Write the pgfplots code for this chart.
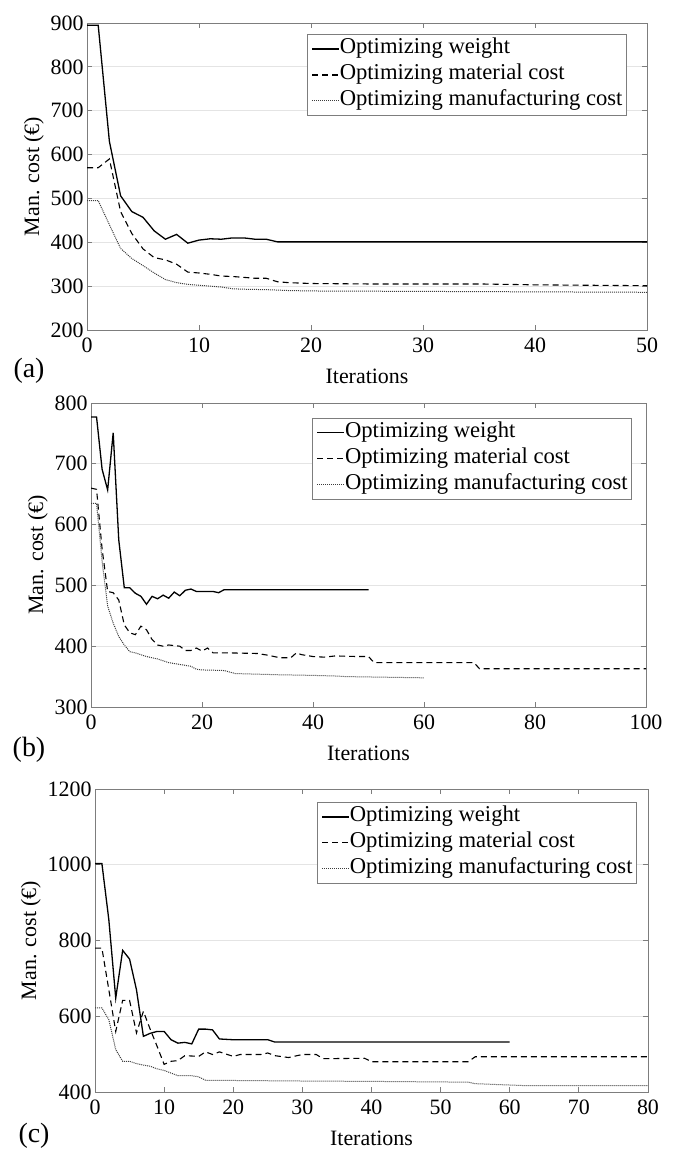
\documentclass[border=0pt]{standalone}
\usepackage{pgfplots}
\pgfplotsset{compat=1.18}
\usepackage{fontspec}
\setmainfont{Liberation Serif}
\definecolor{axgray}{RGB}{125,125,125}
\definecolor{gridgray}{RGB}{228,228,228}
\definecolor{dotcol}{RGB}{60,60,60}
\newcommand{\fsz}{\fontsize{22}{26}\selectfont}
\newcommand{\lsz}{\fontsize{22.7}{26}\selectfont}
\pgfplotsset{
  panel/.style={
    scale only axis, anchor=north west,
    axis line style={axgray, line width=0.8bp},
    tick style={axgray, line width=0.8bp},
    major tick length=5bp,
    tick align=inside,
    ymajorgrids, grid style={gridgray, line width=0.8bp},
    tick label style={font=\fsz},
    xticklabel style={yshift=-4bp},
    /pgf/number format/assume math mode=true,
    /pgf/number format/1000 sep={},
    scaled ticks=false,
    label style={font=\fsz},
    ylabel={Man. cost (€)},
    xlabel={Iterations},
    xlabel style={yshift=-10bp},
    legend cell align=left,
    legend style={draw=axgray, line width=0.8bp, font=\lsz, inner xsep=4bp, inner ysep=1.5bp,
      row sep=0bp, nodes={inner xsep=0bp, inner ysep=0bp, text height=18bp, text depth=8bp},
      /tikz/every even column/.append style={column sep=0bp}},
    legend image code/.code={\draw[#1] (0bp,0bp) -- (27bp,0bp);},
  },
  wline/.style={black, line width=1.3bp},
  mline/.style={black, line width=1.1bp, dash pattern=on 6bp off 4bp},
  fline/.style={dotcol, line width=1.0bp, dash pattern=on 1bp off 1bp},
}
\begin{document}
\begin{tikzpicture}
\path[use as bounding box] (0bp,0bp) rectangle (673bp,-1149bp);
% ---------------- (a)
\begin{axis}[panel, at={(87bp,-23bp)}, width=560bp, height=307bp,
  xmin=0, xmax=50, ymin=200, ymax=900,
  xtick={0,10,...,50}, ytick={200,300,...,900},
  legend style={at={(0.964,0.964)}, anchor=north east}]
\addplot[wline] coordinates {(0,895)(1,895)(2,630)(3,506)(4,470)(5,457)(6,426)(7,407)(8,418)(9,398)(10,405)(11,408)(12,407)(13,410)(14,410)(15,407)(16,407)(17,401)(50,401)};
\addlegendentry{Optimizing weight}
\addplot[mline] coordinates {(0,570)(1,570)(2,590)(3,470)(4,420)(5,385)(6,365)(7,360)(8,350)(9,332)(10,330)(11,327)(12,323)(13,322)(14,320)(15,318)(16,318)(17,310)(18,308)(20,306)(25,305)(30,305)(35,305)(40,303)(45,302)(50,301)};
\addlegendentry{Optimizing material cost}
\addplot[fline] coordinates {(0,495)(1,495)(2,440)(3,386)(4,363)(5,347)(6,330)(7,315)(8,308)(9,304)(10,302)(11,300)(12,298)(13,294)(14,293)(16,292)(18,290)(20,289)(30,288)(40,287)(50,286)};
\addlegendentry{Optimizing manufacturing cost}
\end{axis}
% ---------------- (b)
\begin{axis}[panel, at={(91bp,-403bp)}, width=555bp, height=304bp,
  xmin=0, xmax=100, ymin=300, ymax=800,
  xtick={0,20,...,100}, ytick={300,400,...,800},
  legend style={at={(0.975,0.951)}, anchor=north east}]
\addplot[wline] coordinates {(0,777)(1,777)(2,691)(3,657)(4,751)(5,575)(6,496)(7,496)(8,487)(9,482)(10,469)(11,482)(12,478)(13,484)(14,479)(15,489)(16,483)(17,492)(18,494)(19,490)(20,490)(22,490)(23,488)(24,493)(50,493)};
\addlegendentry{Optimizing weight}
\addplot[mline] coordinates {(0,660)(1,658)(2,560)(3,490)(4,488)(5,476)(6,435)(7,422)(8,419)(9,433)(10,427)(11,411)(12,402)(13,400)(14,402)(15,401)(16,400)(17,393)(18,393)(19,397)(20,392)(21,397)(22,389)(25,389)(30,388)(32,385)(34,381)(36,381)(37,389)(38,386)(40,383)(42,382)(44,384)(48,383)(50,383)(51,373)(69,373)(70,363)(100,363)};
\addlegendentry{Optimizing material cost}
\addplot[fline] coordinates {(0,635)(1,635)(2,540)(3,466)(4,438)(5,416)(6,402)(7,391)(8,389)(9,386)(10,383)(12,379)(14,373)(16,370)(18,367)(19,362)(20,361)(24,360)(26,355)(30,354)(34,353)(40,352)(44,351)(46,350)(60,348)};
\addlegendentry{Optimizing manufacturing cost}
\end{axis}
% ---------------- (c)
\begin{axis}[panel, at={(95bp,-789bp)}, width=553bp, height=303bp,
  xmin=0, xmax=80, ymin=400, ymax=1200,
  xtick={0,10,...,80}, ytick={400,600,...,1200},
  legend style={at={(0.980,0.957)}, anchor=north east}]
\addplot[wline] coordinates {(0,1003)(1,1003)(2,855)(3,648)(4,774)(5,751)(6,670)(7,547)(8,555)(9,560)(10,560)(11,538)(12,529)(13,531)(14,527)(15,566)(16,566)(17,564)(18,540)(20,538)(25,538)(26,532)(60,532)};
\addlegendentry{Optimizing weight}
\addplot[mline] coordinates {(0,780)(1,780)(2,670)(3,560)(4,642)(5,642)(6,556)(7,613)(8,565)(9,520)(10,473)(11,481)(12,483)(13,496)(15,494)(16,506)(17,499)(18,506)(20,494)(21,499)(24,499)(25,503)(26,496)(28,491)(30,499)(32,499)(33,488)(39,489)(40,480)(54,480)(55,493)(80,493)};
\addlegendentry{Optimizing material cost}
\addplot[fline] coordinates {(0,622)(1,622)(2,591)(3,512)(4,481)(5,481)(6,475)(7,471)(8,468)(9,461)(10,457)(11,450)(12,443)(14,443)(15,440)(16,431)(30,429)(40,428)(54,426)(55,422)(62,417)(80,417)};
\addlegendentry{Optimizing manufacturing cost}
\end{axis}
\node[font=\fontsize{28}{32}\selectfont] at (29bp,-371bp) {(a)};
\node[font=\fontsize{28}{32}\selectfont] at (29bp,-750bp) {(b)};
\node[font=\fontsize{28}{32}\selectfont] at (34bp,-1136bp) {(c)};
\end{tikzpicture}
\end{document}
